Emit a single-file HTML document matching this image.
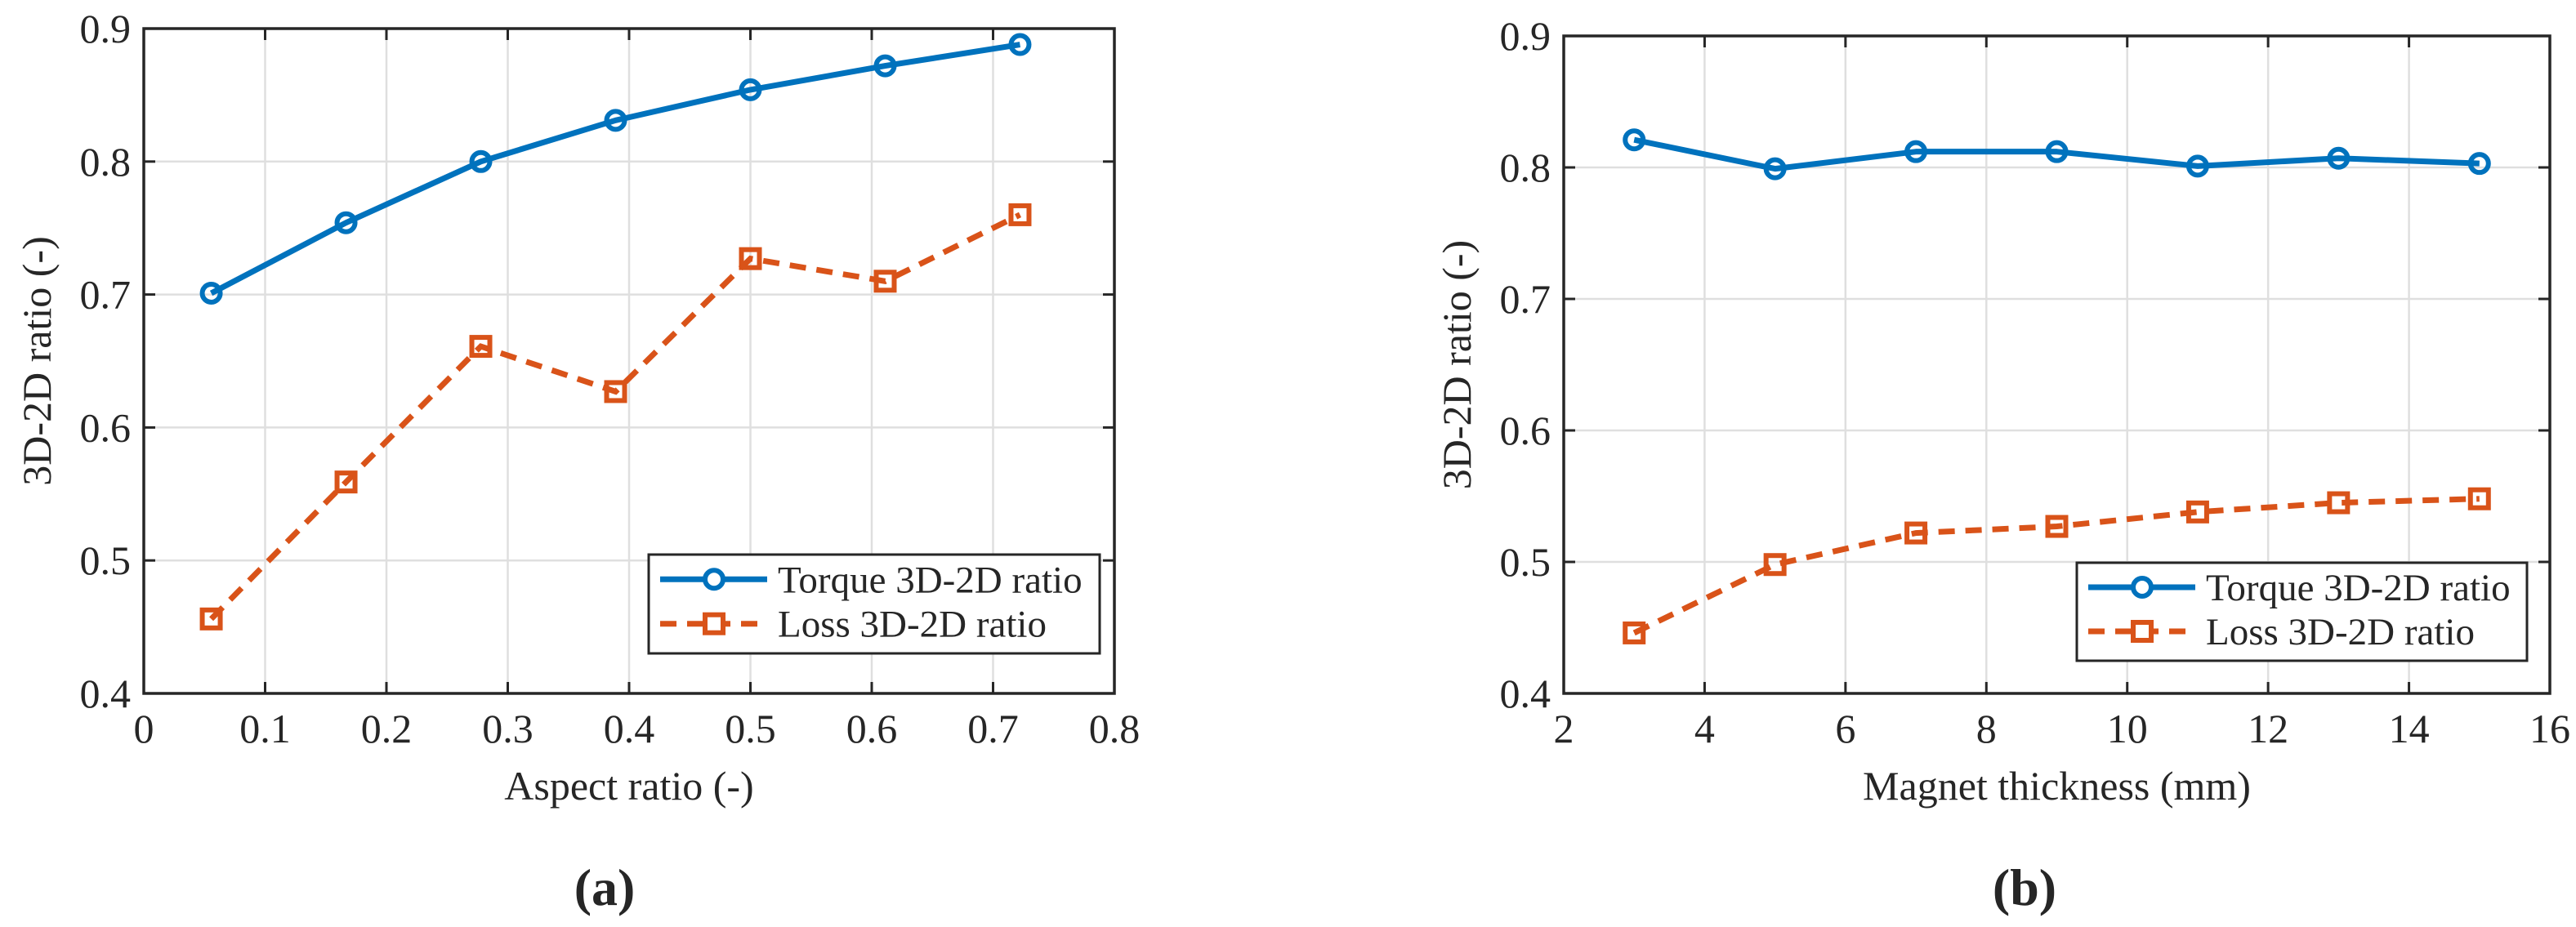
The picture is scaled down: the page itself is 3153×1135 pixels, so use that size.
<!DOCTYPE html>
<html><head><meta charset="utf-8"><style>
html,body{margin:0;padding:0;background:#fff;}
svg{display:block;font-family:"Liberation Serif","DejaVu Serif","Times New Roman",serif;}
text{font-family:"Liberation Serif","DejaVu Serif","Times New Roman",serif;fill:#262626;}
</style></head><body>
<svg id="fig" width="3153" height="1135" viewBox="0 0 3153 1135" xmlns="http://www.w3.org/2000/svg"></svg>
<script>
const aX = [0.0556, 0.1667, 0.2778, 0.3889, 0.5, 0.6111, 0.7222];
const aTorque = [0.701, 0.754, 0.800, 0.831, 0.854, 0.872, 0.888];
const aLoss = [0.456, 0.559, 0.661, 0.627, 0.727, 0.710, 0.760];
const aXTicks = [0, 0.1, 0.2, 0.3, 0.4, 0.5, 0.6, 0.7, 0.8];
const aXTickLabels = ["0","0.1","0.2","0.3","0.4","0.5","0.6","0.7","0.8"];
const bX = [3, 5, 7, 9, 11, 13, 15];
const bTorque = [0.821, 0.799, 0.812, 0.812, 0.801, 0.807, 0.803];
const bLoss = [0.446, 0.498, 0.522, 0.527, 0.538, 0.545, 0.548];
const bXTicks = [2, 4, 6, 8, 10, 12, 14, 16];
const bXTickLabels = ["2","4","6","8","10","12","14","16"];
const yTicks = [0.4, 0.5, 0.6, 0.7, 0.8, 0.9];
const yTickLabels = ["0.4","0.5","0.6","0.7","0.8","0.9"];

const NS = "http://www.w3.org/2000/svg";
const svg = document.getElementById('fig');
const BLUE = "#0072BD", ORANGE = "#D95319";
const FF = '"Liberation Serif","DejaVu Serif",serif';
function mk(tag, attrs, parent){const e=document.createElementNS(NS,tag);for(const k in attrs)e.setAttribute(k,attrs[k]);if(tag==='text')e.setAttribute('font-family',FF);(parent||svg).appendChild(e);return e;}

function chart(cfg){
  const g = mk('g',{});
  
  
  const L=cfg.L,R=cfg.R,T=cfg.T,B=cfg.B;
  const sx=v=>L+(v-cfg.xmin)/(cfg.xmax-cfg.xmin)*(R-L);
  const sy=v=>B-(v-0.4)/(0.5)*(B-T);
  cfg.xt.forEach((v,i)=>{
    const x=sx(v);
    if(i>0&&i<cfg.xt.length-1){
      const gl=mk('line',{x1:x,x2:x,y1:T,y2:B,stroke:"#dfdfdf","stroke-width":2.5},g);
      
      
    }
    mk('line',{x1:x,x2:x,y1:B,y2:B-14,stroke:"#262626","stroke-width":3},g);
    mk('line',{x1:x,x2:x,y1:T,y2:T+14,stroke:"#262626","stroke-width":3},g);
    const t=mk('text',{x:x,y:B+60,"font-size":50,"text-anchor":"middle"},g);
    t.textContent=cfg.xl[i];
    
    
  });
  yTicks.forEach((v,i)=>{
    const y=sy(v);
    if(i>0&&i<yTicks.length-1){
      const gl=mk('line',{x1:L,x2:R,y1:y,y2:y,stroke:"#dfdfdf","stroke-width":2.5},g);
      
      
    }
    mk('line',{x1:L,x2:L+14,y1:y,y2:y,stroke:"#262626","stroke-width":3},g);
    mk('line',{x1:R,x2:R-14,y1:y,y2:y,stroke:"#262626","stroke-width":3},g);
    const t=mk('text',{x:L-16,y:y+17,"font-size":50,"text-anchor":"end"},g);
    t.textContent=yTickLabels[i];
    
    
  });
  const box=mk('rect',{x:L,y:T,width:R-L,height:B-T,fill:"none",stroke:"#262626","stroke-width":3.5},g);
  
  
  const tp=cfg.x.map((v,i)=>sx(v)+','+sy(cfg.t[i])).join(' ');
  const tl=mk('polyline',{points:tp,fill:"none",stroke:BLUE,"stroke-width":7,"stroke-linejoin":"round"},g);
  
  
  const lp=cfg.x.map((v,i)=>sx(v)+','+sy(cfg.l[i])).join(' ');
  const ll=mk('polyline',{points:lp,fill:"none",stroke:ORANGE,"stroke-width":7,"stroke-dasharray":"20 13"},g);
  
  
  cfg.x.forEach((v,i)=>{
    const c=mk('circle',{cx:sx(v),cy:sy(cfg.t[i]),r:11,fill:"none",stroke:BLUE,"stroke-width":6},g);
    
    
    const s=mk('rect',{x:sx(v)-11,y:sy(cfg.l[i])-11,width:22,height:22,fill:"none",stroke:ORANGE,"stroke-width":6},g);
    
    
  });
  const lg=cfg.lg;
  const lgG=mk('g',{},g);
  
  
  mk('rect',{x:lg.x,y:lg.y,width:lg.w,height:lg.h,fill:"#fff",stroke:"#262626","stroke-width":3},lgG);
  const r1=lg.y+lg.h*0.25, r2=lg.y+lg.h*0.7;
  mk('line',{x1:lg.x+14,x2:lg.x+145,y1:r1,y2:r1,stroke:BLUE,"stroke-width":7},lgG);
  mk('circle',{cx:lg.x+80,cy:r1,r:11,fill:"#fff",stroke:BLUE,"stroke-width":6},lgG);
  mk('line',{x1:lg.x+14,x2:lg.x+145,y1:r2,y2:r2,stroke:ORANGE,"stroke-width":7,"stroke-dasharray":"20 13"},lgG);
  mk('rect',{x:lg.x+69,y:r2-11,width:22,height:22,fill:"#fff",stroke:ORANGE,"stroke-width":6},lgG);
  const e1=mk('text',{x:lg.x+158,y:r1+16,"font-size":47},lgG); e1.textContent="Torque 3D-2D ratio";
  
  
  const e2=mk('text',{x:lg.x+158,y:r2+16,"font-size":47},lgG); e2.textContent="Loss 3D-2D ratio";
  
  
  const xt=mk('text',{x:(L+R)/2,y:B+130,"font-size":50,"text-anchor":"middle"},g);
  xt.textContent=cfg.xtitle;
  
  
  const yc=(T+B)/2;
  const yt=mk('text',{x:cfg.ytx,y:yc,"font-size":50,"text-anchor":"middle",transform:`rotate(-90 ${cfg.ytx} ${yc})`},g);
  yt.textContent="3D-2D ratio (-)";
  
  
  const pl=mk('text',{x:cfg.px,y:1108,"font-size":64,"font-weight":"bold","text-anchor":"middle"},g);
  pl.textContent=cfg.panel;
  
  
}
chart({name:'chart-a',L:176,R:1364,T:35,B:849,xmin:0,xmax:0.8,x:aX,t:aTorque,l:aLoss,xt:aXTicks,xl:aXTickLabels,
  lg:{x:794,y:679,w:552,h:121},xtitle:"Aspect ratio (-)",ytx:62,panel:"(a)",px:740});
chart({name:'chart-b',L:1914,R:3121,T:44,B:849,xmin:2,xmax:16,x:bX,t:bTorque,l:bLoss,xt:bXTicks,xl:bXTickLabels,
  lg:{x:2542,y:689,w:551,h:120},xtitle:"Magnet thickness (mm)",ytx:1800,panel:"(b)",px:2478});
</script>
</body></html>
